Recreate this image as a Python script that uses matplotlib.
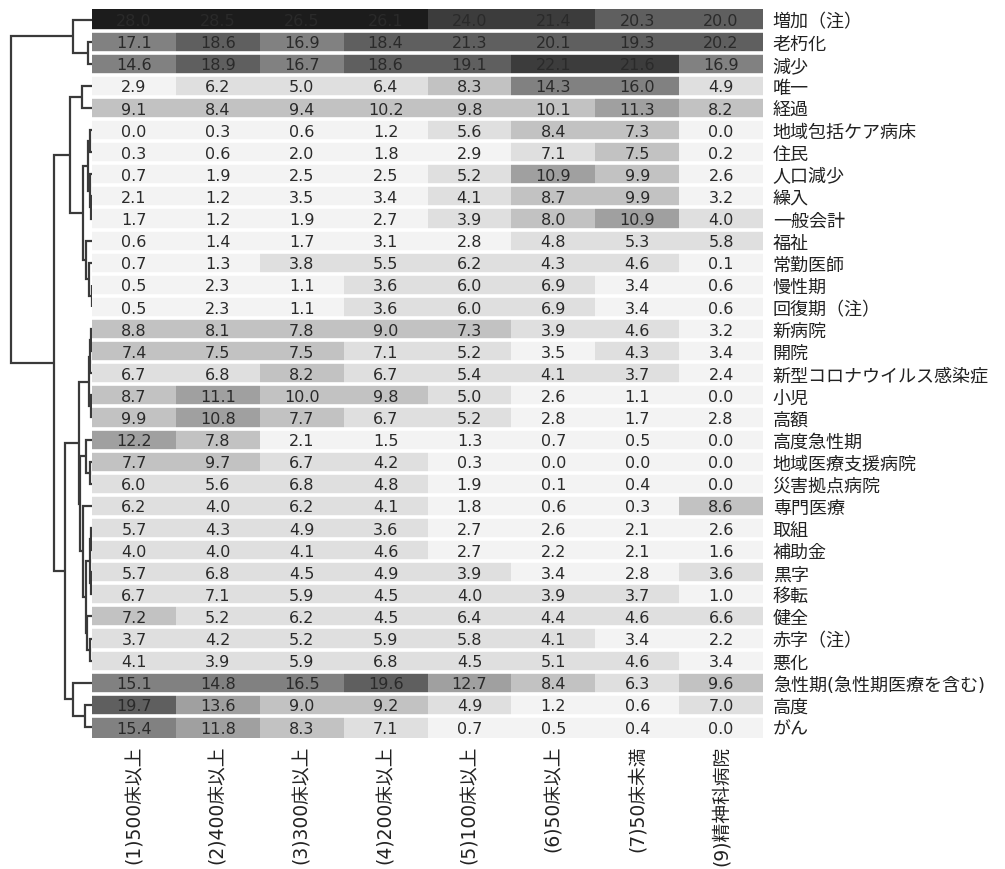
import numpy as np
import matplotlib
matplotlib.use("Agg")
import matplotlib.pyplot as plt
from matplotlib.colors import ListedColormap, BoundaryNorm

plt.rcParams['font.family'] = ['DejaVu Sans', 'Noto Sans CJK JP']

row_labels = [
    "増加（注）", "老朽化", "減少", "唯一", "経過", "地域包括ケア病床", "住民",
    "人口減少", "繰入", "一般会計", "福祉", "常勤医師", "慢性期", "回復期（注）",
    "新病院", "開院", "新型コロナウイルス感染症", "小児", "高額", "高度急性期",
    "地域医療支援病院", "災害拠点病院", "専門医療", "取組", "補助金", "黒字",
    "移転", "健全", "赤字（注）", "悪化", "急性期(急性期医療を含む)", "高度", "がん",
]

col_labels = [
    "(1)500床以上", "(2)400床以上", "(3)300床以上", "(4)200床以上",
    "(5)100床以上", "(6)50床以上", "(7)50床未満", "(9)精神科病院",
]

values = np.array([
    [28.0, 28.5, 26.5, 26.1, 24.0, 21.4, 20.3, 20.0],
    [17.1, 18.6, 16.9, 18.4, 21.3, 20.1, 19.3, 20.2],
    [14.6, 18.9, 16.7, 18.6, 19.1, 22.1, 21.6, 16.9],
    [2.9, 6.2, 5.0, 6.4, 8.3, 14.3, 16.0, 4.9],
    [9.1, 8.4, 9.4, 10.2, 9.8, 10.1, 11.3, 8.2],
    [0.0, 0.3, 0.6, 1.2, 5.6, 8.4, 7.3, 0.0],
    [0.3, 0.6, 2.0, 1.8, 2.9, 7.1, 7.5, 0.2],
    [0.7, 1.9, 2.5, 2.5, 5.2, 10.9, 9.9, 2.6],
    [2.1, 1.2, 3.5, 3.4, 4.1, 8.7, 9.9, 3.2],
    [1.7, 1.2, 1.9, 2.7, 3.9, 8.0, 10.9, 4.0],
    [0.6, 1.4, 1.7, 3.1, 2.8, 4.8, 5.3, 5.8],
    [0.7, 1.3, 3.8, 5.5, 6.2, 4.3, 4.6, 0.1],
    [0.5, 2.3, 1.1, 3.6, 6.0, 6.9, 3.4, 0.6],
    [0.5, 2.3, 1.1, 3.6, 6.0, 6.9, 3.4, 0.6],
    [8.8, 8.1, 7.8, 9.0, 7.3, 3.9, 4.6, 3.2],
    [7.4, 7.5, 7.5, 7.1, 5.2, 3.5, 4.3, 3.4],
    [6.7, 6.8, 8.2, 6.7, 5.4, 4.1, 3.7, 2.4],
    [8.7, 11.1, 10.0, 9.8, 5.0, 2.6, 1.1, 0.0],
    [9.9, 10.8, 7.7, 6.7, 5.2, 2.8, 1.7, 2.8],
    [12.2, 7.8, 2.1, 1.5, 1.3, 0.7, 0.5, 0.0],
    [7.7, 9.7, 6.7, 4.2, 0.3, 0.0, 0.0, 0.0],
    [6.0, 5.6, 6.8, 4.8, 1.9, 0.1, 0.4, 0.0],
    [6.2, 4.0, 6.2, 4.1, 1.8, 0.6, 0.3, 8.6],
    [5.7, 4.3, 4.9, 3.6, 2.7, 2.6, 2.1, 2.6],
    [4.0, 4.0, 4.1, 4.6, 2.7, 2.2, 2.1, 1.6],
    [5.7, 6.8, 4.5, 4.9, 3.9, 3.4, 2.8, 3.6],
    [6.7, 7.1, 5.9, 4.5, 4.0, 3.9, 3.7, 1.0],
    [7.2, 5.2, 6.2, 4.5, 6.4, 4.4, 4.6, 6.6],
    [3.7, 4.2, 5.2, 5.9, 5.8, 4.1, 3.4, 2.2],
    [4.1, 3.9, 5.9, 6.8, 4.5, 5.1, 4.6, 3.4],
    [15.1, 14.8, 16.5, 19.6, 12.7, 8.4, 6.3, 9.6],
    [19.7, 13.6, 9.0, 9.2, 4.9, 1.2, 0.6, 7.0],
    [15.4, 11.8, 8.3, 7.1, 0.7, 0.5, 0.4, 0.0],
])

# row dendrogram: (merge height, left, right), leaves = row index
top_group = (19, 0, (4, 1, 2))
group_a = (22, (10, 3, 4),
           (9.5, (4.5, (2, 5, 6), (2.5, 7, (1.5, 8, 9))),
                 (6, 10, (3, 11, (0, 12, 13)))))
group_b1 = (13, (3.5, (2.5, (1.5, 14, 15), 16), (1.5, 17, 18)),
            (12, (6, 19, (2.5, 20, 21)),
                 (9, 22, (6, (2.5, (1.5, 23, 24), (1.5, 25, 26)),
                             (5, 27, (2, 28, 29))))))
group_b2 = (19, 30, (7, 31, 32))
tree = (81, top_group, (38, group_a, (27, group_b1, group_b2)))

W, H = 1005, 870
fig = plt.figure(figsize=(W / 100, H / 100), dpi=100)

top_px, bot_px = 9.5, 739
left_px, right_px = 92, 763
ax = fig.add_axes([left_px / W, 1 - bot_px / H, (right_px - left_px) / W, (bot_px - top_px) / H])
axd = fig.add_axes([8 / W, 1 - bot_px / H, (left_px - 8) / W, (bot_px - top_px) / H])

greys = ["#f3f3f3", "#dfdfdf", "#c2c2c2", "#a0a0a0", "#818181", "#5f5f5f", "#3c3c3c", "#1c1c1c"]
cmap = ListedColormap(greys)
norm = BoundaryNorm(np.linspace(0, values.max(), 9), cmap.N)

nr, nc = values.shape
ax.pcolormesh(np.arange(nc + 1), np.arange(nr + 1), values, cmap=cmap, norm=norm)
ax.set_xlim(0, nc)
ax.set_ylim(nr, 0)
for y in range(1, nr):
    ax.axhline(y, color="white", lw=2.6)

for i in range(nr):
    for j in range(nc):
        ax.text(j + 0.5, i + 0.55, f"{values[i, j]:.1f}", ha="center", va="center",
                fontsize=11.5, color="#2a2a2a")

ax.yaxis.tick_right()
ax.set_yticks(np.arange(nr) + 0.5)
ax.set_yticklabels(row_labels, fontsize=13, color="#222")
ax.set_xticks(np.arange(nc) + 0.5)
ax.set_xticklabels(col_labels, rotation=90, fontsize=13.5, color="#222", va="top")
ax.tick_params(axis="y", length=0, pad=7)
ax.tick_params(axis="x", length=0, pad=5)
for s in ax.spines.values():
    s.set_visible(False)


def draw(node):
    if isinstance(node, int):
        return node + 0.5, 0
    h, left, right = node
    yl, hl = draw(left)
    yr, hr = draw(right)
    axd.plot([hl, h, h, hr], [yl, yl, yr, yr], color="#3a3a3a", lw=1.6,
             solid_capstyle="butt", solid_joinstyle="miter")
    return (yl + yr) / 2, h


draw(tree)
axd.set_xlim(84, 0)
axd.set_ylim(nr, 0)
axd.axis("off")

fig.savefig("out.png", dpi=100)
